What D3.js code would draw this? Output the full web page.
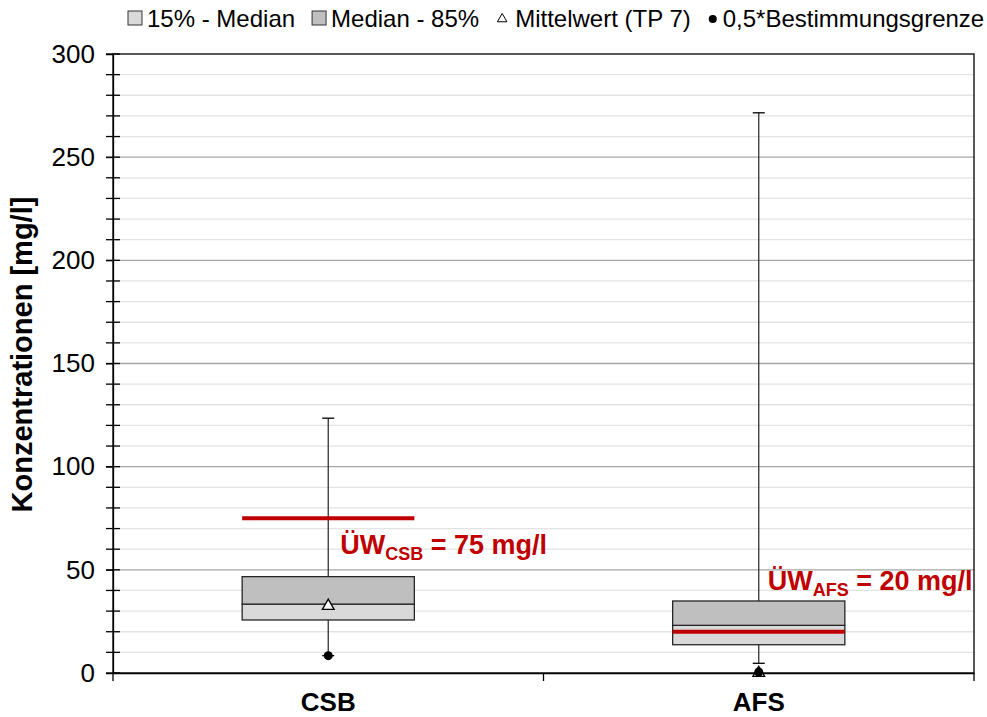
<!DOCTYPE html>
<html>
<head>
<meta charset="utf-8">
<script src="https://cdn.jsdelivr.net/npm/d3@7"></script>
<style>
  body { margin: 0; background: #fff; }
  svg { font-family: "Liberation Sans", Arial, sans-serif; }
</style>
</head>
<body>
<div class="chart"></div>
<script>
// values
const categories = ['CSB', 'AFS'];
const p15 = [25.7, 13.7];
const median = [33.4, 23.1];
const p85 = [46.7, 34.9];
const whiskerLow = [8.4, 4.7];
const whiskerHigh = [123.5, 271.5];
const meanTP7 = [32.5, 0];
const halfLoq = [8.4, 0.5];
const limits = [75, 20];
const limitNames = ['CSB', 'AFS'];
const yTicks = [0, 50, 100, 150, 200, 250, 300];

const margin = {top: 54, right: 13, bottom: 44, left: 113};
const width = 987 - margin.left - margin.right;
const height = 717 - margin.top - margin.bottom;

const svg = d3.select('.chart')
    .append('svg')
    .attr('width', 987)
    .attr('height', 717);

const group = svg.append('g')
    .attr('transform', 'translate(' + margin.left + ',' + margin.top + ')');

const xScale = d3.scaleBand()
    .domain(categories)
    .range([0, width]);

const yScale = d3.scaleLinear()
    .domain([0, 300])
    .range([height, 0]);

// gridlines every 10
group.append('g')
    .selectAll('line')
    .data(d3.range(10, 300, 10))
    .join('line')
    .attr('x1', 0)
    .attr('x2', width)
    .attr('y1', d => yScale(d))
    .attr('y2', d => yScale(d))
    .attr('stroke', d => d % 50 == 0 ? '#a6a6a6' : '#e3e3e3')
    .attr('stroke-width', 1.3);

// plot border
group.append('rect')
    .attr('width', width)
    .attr('height', height)
    .attr('fill', 'none')
    .attr('stroke', '#000')
    .attr('stroke-width', 1.3);

const boxW = xScale.bandwidth() * 0.4;
const cx = i => xScale(categories[i]) + xScale.bandwidth() / 2;
const idx = categories.map((d, i) => i);

// whiskers
const whisk = group.append('g')
    .attr('stroke', '#333')
    .attr('stroke-width', 1.3);

whisk.selectAll('.up')
    .data(idx)
    .join('line')
    .attr('x1', cx).attr('x2', cx)
    .attr('y1', i => yScale(p85[i]))
    .attr('y2', i => yScale(whiskerHigh[i]));

whisk.selectAll('.lo')
    .data(idx)
    .join('line')
    .attr('class', 'lo')
    .attr('x1', cx).attr('x2', cx)
    .attr('y1', i => yScale(p15[i]))
    .attr('y2', i => yScale(whiskerLow[i]));

whisk.selectAll('.capHi')
    .data(idx)
    .join('line')
    .attr('class', 'capHi')
    .attr('x1', i => cx(i) - 6).attr('x2', i => cx(i) + 6)
    .attr('y1', i => yScale(whiskerHigh[i]))
    .attr('y2', i => yScale(whiskerHigh[i]))
    .attr('stroke', '#000');

whisk.selectAll('.capLo')
    .data(idx)
    .join('line')
    .attr('class', 'capLo')
    .attr('x1', i => cx(i) - 6).attr('x2', i => cx(i) + 6)
    .attr('y1', i => yScale(whiskerLow[i]))
    .attr('y2', i => yScale(whiskerLow[i]))
    .attr('stroke', '#000');

// boxes
group.selectAll('.boxLow')
    .data(idx)
    .join('rect')
    .attr('x', i => cx(i) - boxW / 2)
    .attr('width', boxW)
    .attr('y', i => yScale(median[i]))
    .attr('height', i => yScale(p15[i]) - yScale(median[i]))
    .attr('fill', '#d9d9d9')
    .attr('stroke', '#262626')
    .attr('stroke-width', 1.3);

group.selectAll('.boxHigh')
    .data(idx)
    .join('rect')
    .attr('x', i => cx(i) - boxW / 2)
    .attr('width', boxW)
    .attr('y', i => yScale(p85[i]))
    .attr('height', i => yScale(median[i]) - yScale(p85[i]))
    .attr('fill', '#bfbfbf')
    .attr('stroke', '#262626')
    .attr('stroke-width', 1.3);

// limit lines
group.selectAll('.limit')
    .data(idx)
    .join('line')
    .attr('x1', i => cx(i) - boxW / 2)
    .attr('x2', i => cx(i) + boxW / 2)
    .attr('y1', i => yScale(limits[i]))
    .attr('y2', i => yScale(limits[i]))
    .attr('stroke', '#c00000')
    .attr('stroke-width', 4);

// markers
const tri = d3.symbol().type(d3.symbolTriangle).size(60);
group.selectAll('.mean')
    .data(idx)
    .join('path')
    .attr('d', tri)
    .attr('transform', i => 'translate(' + cx(i) + ',' + yScale(meanTP7[i]) + ')')
    .attr('fill', '#fff')
    .attr('stroke', '#000')
    .attr('stroke-width', 1.3);

group.selectAll('.loq')
    .data(idx)
    .join('circle')
    .attr('cx', cx)
    .attr('cy', i => yScale(halfLoq[i]))
    .attr('r', 4.5)
    .attr('fill', '#000');

// limit labels
const labelPos = [
    {dx: 12, dy: 36},
    {dx: 9, dy: -42}
];
const labels = group.selectAll('.lbl')
    .data(idx)
    .join('text')
    .attr('x', i => cx(i) + labelPos[i].dx)
    .attr('y', i => yScale(limits[i]) + labelPos[i].dy)
    .attr('fill', '#c00000')
    .attr('font-weight', 'bold')
    .attr('font-size', 27);
labels.append('tspan').text('ÜW');
labels.append('tspan')
    .attr('font-size', 18)
    .attr('dy', 6)
    .text(i => limitNames[i]);
labels.append('tspan')
    .attr('dy', -6)
    .text(i => ' = ' + limits[i] + ' mg/l');

// axes
const yAxis = group.append('g')
    .call(d3.axisLeft(yScale).tickValues(yTicks).tickSize(7).tickPadding(11));
yAxis.selectAll('text').attr('font-size', 26).attr('font-family', null).attr('fill', '#000');
yAxis.select('.domain').attr('stroke-width', 1.3);

group.append('g')
    .selectAll('line')
    .data(d3.range(0, 301, 10))
    .join('line')
    .attr('x1', -7)
    .attr('x2', 7)
    .attr('y1', d => yScale(d))
    .attr('y2', d => yScale(d))
    .attr('stroke', '#000')
    .attr('stroke-width', 1.3);

const xAxis = group.append('g')
    .attr('transform', 'translate(0,' + height + ')')
    .call(d3.axisBottom(xScale).tickSize(0).tickPadding(20));
xAxis.select('.domain').attr('stroke-width', 1.3);
xAxis.selectAll('text')
    .attr('font-size', 26)
    .attr('font-weight', 'bold')
    .attr('font-family', null)
    .attr('fill', '#000');

group.append('g')
    .selectAll('line')
    .data([0, 1, 2])
    .join('line')
    .attr('x1', d => d * xScale.bandwidth())
    .attr('x2', d => d * xScale.bandwidth())
    .attr('y1', height)
    .attr('y2', height + 8)
    .attr('stroke', '#000')
    .attr('stroke-width', 1.3);

// y title
svg.append('text')
    .attr('transform', 'translate(32,' + (margin.top + height / 2 - 9) + ') rotate(-90)')
    .attr('text-anchor', 'middle')
    .attr('font-size', 29)
    .attr('font-weight', 'bold')
    .text('Konzentrationen [mg/l]');

// legend
const legendItems = [
    {label: '15% - Median', kind: 'box', fill: '#d9d9d9'},
    {label: 'Median - 85%', kind: 'box', fill: '#bfbfbf'},
    {label: 'Mittelwert (TP 7)', kind: 'tri'},
    {label: '0,5*Bestimmungsgrenze', kind: 'dot'}
];
const legend = svg.append('g').attr('transform', 'translate(128,18)');
let lx = 0;
legendItems.forEach(item => {
    const g = legend.append('g').attr('transform', 'translate(' + lx + ',0)');
    if (item.kind == 'box') {
        g.append('rect')
            .attr('x', 0).attr('y', -7)
            .attr('width', 14).attr('height', 14)
            .attr('fill', item.fill)
            .attr('stroke', '#333')
            .attr('stroke-width', 1);
    } else if (item.kind == 'tri') {
        g.append('path')
            .attr('d', d3.symbol().type(d3.symbolTriangle).size(40))
            .attr('transform', 'translate(6,1)')
            .attr('fill', '#fff')
            .attr('stroke', '#000');
    } else {
        g.append('circle')
            .attr('cx', 5).attr('cy', 1).attr('r', 4)
            .attr('fill', '#000');
    }
    const offset = item.kind == 'dot' ? 15 : 19;
    const t = g.append('text')
        .attr('x', offset)
        .attr('y', 8.5)
        .attr('font-size', 24)
        .text(item.label);
    lx += offset + t.node().getComputedTextLength() + 17;
});
</script>
</body>
</html>
